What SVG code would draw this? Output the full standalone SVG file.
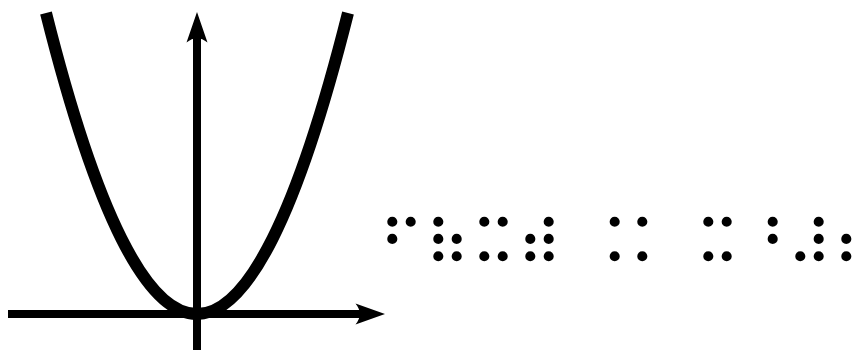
<svg xmlns="http://www.w3.org/2000/svg" width="852" height="350" viewBox="0 0 852 350">
<style>
.axis{stroke:#000;stroke-width:8;fill:none}
.head{fill:#000;stroke:none}
.curve{stroke:#000;stroke-width:12;fill:none;stroke-linecap:butt}
.braille{font-family:"DejaVu Serif",serif;font-size:62.8px;fill:#000}
</style>
<rect width="852" height="350" fill="#fff"/>
<g id="axes">
<line class="axis" x1="8" y1="314" x2="364" y2="314"/>
<path class="head" d="M385,314 L355.5,303.5 Q364,314 355.5,324.5 Z"/>
<line class="axis" x1="197" y1="350" x2="197" y2="34"/>
<path class="head" d="M197,12 L207.5,42.5 Q197,34 186.5,42.5 Z"/>
</g>
<g id="parabola">
<path class="curve" d="M46,13 Q197,615 348,13"/>
</g>
<g id="braille">
<text class="braille" x="378.6" y="266.2">⠋⠷⠭⠾ ⠨⠅ ⠭⠘⠼⠆</text>
</g>
</svg>
